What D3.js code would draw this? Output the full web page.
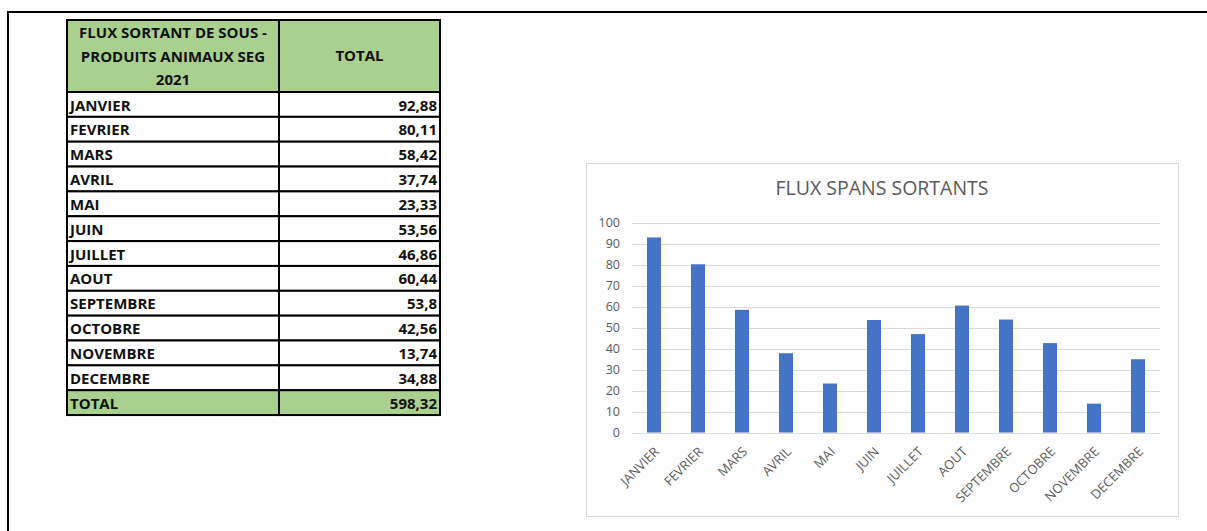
<html>
<head>
<script src="https://d3js.org/d3.v7.min.js"></script>
<style>
    body { margin: 0; background: #fff; }
    .cell { stroke: #000; stroke-width: 2px; }
    .tbl { font-family: "Open Sans", sans-serif; font-weight: bold; font-size: 15px; fill: #111; }
    .grid line { stroke: #d9d9d9; stroke-width: 1px; }
    .axis text { font-family: "Open Sans", sans-serif; fill: #595959; }
</style>
</head>
<body>
<svg id="page" width="1207" height="531"></svg>
<script>
const months = ["JANVIER","FEVRIER","MARS","AVRIL","MAI","JUIN","JUILLET","AOUT","SEPTEMBRE","OCTOBRE","NOVEMBRE","DECEMBRE"];
const values = [92.88, 80.11, 58.42, 37.74, 23.33, 53.56, 46.86, 60.44, 53.8, 42.56, 13.74, 34.88];
const valueLabels = ["92,88","80,11","58,42","37,74","23,33","53,56","46,86","60,44","53,8","42,56","13,74","34,88"];
const totalLabel = "598,32";
const headerLines = ["FLUX SORTANT DE SOUS -", "PRODUITS ANIMAUX SEG", "2021"];
const headerTotal = "TOTAL";
const chartTitle = "FLUX SPANS SORTANTS";
const yTicks = [0,10,20,30,40,50,60,70,80,90,100];

const svg = d3.select("#page");

// outer frame (screenshot edge)
svg.append("path")
   .attr("d", "M8,531 L8,12 L1207,12")
   .attr("fill", "none").attr("stroke", "#000").attr("stroke-width", 2);

// ---- table ----
const tx0 = 67, tx1 = 279, tx2 = 440;
const headTop = 20, headBot = 92, rowH = 24.85;
const tbl = svg.append("g");

tbl.append("rect").attr("class", "cell").attr("x", tx0).attr("y", headTop)
   .attr("width", tx1 - tx0).attr("height", headBot - headTop).attr("fill", "#a9d08e");
tbl.append("rect").attr("class", "cell").attr("x", tx1).attr("y", headTop)
   .attr("width", tx2 - tx1).attr("height", headBot - headTop).attr("fill", "#a9d08e");

headerLines.forEach((l, i) => {
    tbl.append("text").attr("class", "tbl").attr("x", (tx0 + tx1) / 2)
       .attr("y", headTop + 18 + i * 23.5).attr("text-anchor", "middle").text(l);
});
tbl.append("text").attr("class", "tbl").attr("x", (tx1 + tx2) / 2)
   .attr("y", (headTop + headBot) / 2 + 5).attr("text-anchor", "middle").text(headerTotal);

const rows = months.map((m, i) => ({name: m, val: valueLabels[i], fill: "#fff"}));
rows.push({name: "TOTAL", val: totalLabel, fill: "#a9d08e"});

const rowG = tbl.selectAll("g.row").data(rows).join("g")
    .attr("class", "row")
    .attr("transform", (d, i) => "translate(0," + (headBot + i * rowH) + ")");
rowG.append("rect").attr("class", "cell").attr("x", tx0).attr("width", tx1 - tx0)
    .attr("height", rowH).attr("fill", d => d.fill);
rowG.append("rect").attr("class", "cell").attr("x", tx1).attr("width", tx2 - tx1)
    .attr("height", rowH).attr("fill", d => d.fill);
rowG.append("text").attr("class", "tbl").attr("x", tx0 + 3).attr("y", 18.5).text(d => d.name);
rowG.append("text").attr("class", "tbl").attr("x", tx2 - 3).attr("y", 18.5)
    .attr("text-anchor", "end").text(d => d.val);

// ---- chart ----
svg.append("rect").attr("x", 586.5).attr("y", 163.5).attr("width", 592).attr("height", 353)
   .attr("fill", "#fff").attr("stroke", "#d9d9d9").attr("stroke-width", 1);

svg.append("text").attr("x", 882).attr("y", 195).attr("text-anchor", "middle")
   .attr("font-family", "'Open Sans', sans-serif").attr("font-size", 19.5).attr("fill", "#595959")
   .text(chartTitle);

const plotL = 632, plotR = 1160, plotT = 222.5, plotB = 432.5;
const x = d3.scaleBand().domain(months).range([plotL, plotR]).paddingInner(0.68).paddingOuter(0.34);
const y = d3.scaleLinear().domain([0, 100]).range([plotB, plotT]);

svg.append("g").attr("class", "grid")
   .selectAll("line").data(yTicks).join("line")
   .attr("x1", plotL).attr("x2", plotR)
   .attr("y1", d => Math.round(y(d)) + 0.5).attr("y2", d => Math.round(y(d)) + 0.5);

svg.append("g").selectAll("rect").data(values).join("rect")
   .attr("x", (d, i) => x(months[i]))
   .attr("width", x.bandwidth())
   .attr("y", d => y(d))
   .attr("height", d => plotB - y(d))
   .attr("fill", "#4472c4");

const yAxis = svg.append("g").attr("class", "axis")
   .attr("transform", "translate(" + (plotL - 12) + ",0)")
   .call(d3.axisLeft(y).tickValues(yTicks).tickSize(0).tickPadding(0));
yAxis.select(".domain").remove();
yAxis.selectAll("text").attr("font-size", 12.5);

const xAxis = svg.append("g").attr("class", "axis")
   .attr("transform", "translate(0," + plotB + ")")
   .call(d3.axisBottom(x).tickSize(0).tickPadding(0));
xAxis.select(".domain").remove();
xAxis.selectAll("text")
   .attr("font-size", 13)
   .attr("text-anchor", "end")
   .attr("dy", "0")
   .attr("transform", "translate(6,20) rotate(-45)");
</script>
</body>
</html>
